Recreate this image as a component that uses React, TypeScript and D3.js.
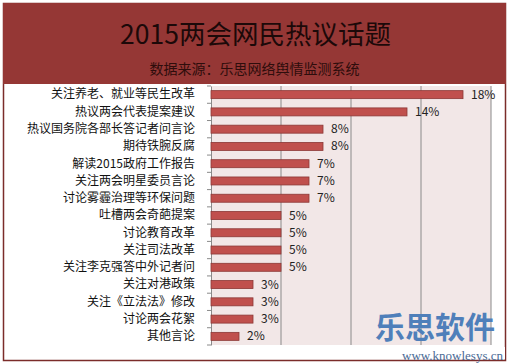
import React, { useEffect, useRef } from 'react';
import * as d3 from 'd3';

// 话题与占比(%)
const topics = [
  '关注养老、就业等民生改革',
  '热议两会代表提案建议',
  '热议国务院各部长答记者问言论',
  '期待铁腕反腐',
  '解读2015政府工作报告',
  '关注两会明星委员言论',
  '讨论雾霾治理等环保问题',
  '吐槽两会奇葩提案',
  '讨论教育改革',
  '关注司法改革',
  '关注李克强答中外记者问',
  '关注对港政策',
  '关注《立法法》修改',
  '讨论两会花絮',
  '其他言论',
];
const shares = [18, 14, 8, 8, 7, 7, 7, 5, 5, 5, 5, 3, 3, 3, 2];
const gridTicks = [0, 5, 10, 15, 20];

const W = 509;
const H = 364;
const CN = '"Noto Sans CJK SC", "Noto Sans", sans-serif';

function App() {
  const svgRef = useRef<SVGSVGElement>(null);

  useEffect(() => {
    const svg = d3.select(svgRef.current);
    svg.selectAll('*').remove();

    // 外框与标题区
    svg.append('rect').attr('x', 0).attr('y', 0).attr('width', W).attr('height', H).attr('fill', '#fff');
    svg.append('rect')
      .attr('x', 3.5).attr('y', 3.5).attr('width', W - 7).attr('height', H - 7)
      .attr('fill', '#fff').attr('stroke', '#7b2c2a').attr('stroke-width', 1.5);
    svg.append('rect')
      .attr('x', 3).attr('y', 3).attr('width', W - 6).attr('height', 81)
      .attr('fill', '#953735');

    svg.append('text')
      .attr('x', W / 2 + 1).attr('y', 44)
      .attr('text-anchor', 'middle')
      .attr('font-family', CN).attr('font-size', 26.5)
      .attr('fill', '#1c0909')
      .text('2015两会网民热议话题');
    svg.append('text')
      .attr('x', W / 2).attr('y', 74)
      .attr('text-anchor', 'middle')
      .attr('font-family', CN).attr('font-size', 14)
      .attr('fill', '#2e0d0c')
      .text('数据来源：乐思网络舆情监测系统');

    const left = 211, right = 491, top = 86, bottom = 345;
    const x = d3.scaleLinear().domain([0, 20]).range([left, right]);
    const y = d3.scaleBand().domain(topics).range([top, bottom]);

    // 绘图区背景
    svg.append('rect')
      .attr('x', left).attr('y', top).attr('width', right - left).attr('height', bottom - top)
      .attr('fill', '#f2e7e7');

    // 网格线
    svg.selectAll('.grid')
      .data(gridTicks.slice(1))
      .enter().append('line')
      .attr('x1', d => x(d)).attr('x2', d => x(d))
      .attr('y1', top).attr('y2', bottom)
      .attr('stroke', '#8a8a8a').attr('stroke-width', 1);

    // 纵轴
    const axis = svg.append('g')
      .attr('transform', `translate(${left},0)`)
      .call(d3.axisLeft(y).tickSize(0).tickPadding(16));
    axis.select('.domain').attr('stroke', '#8a8a8a');
    axis.selectAll('text')
      .attr('font-family', CN).attr('font-size', 12).attr('fill', '#111');
    // 分类之间的刻度
    svg.selectAll('.tk')
      .data(d3.range(topics.length + 1))
      .enter().append('line')
      .attr('x1', left - 4).attr('x2', left)
      .attr('y1', i => top + i * y.step()).attr('y2', i => top + i * y.step())
      .attr('stroke', '#8a8a8a');

    // 条形
    const barH = 8;
    svg.selectAll('.bar')
      .data(shares)
      .enter().append('rect')
      .attr('x', left)
      .attr('y', (d, i) => y(topics[i])! + y.bandwidth() / 2 - barH / 2)
      .attr('width', d => x(d) - left)
      .attr('height', barH)
      .attr('fill', '#c0504d').attr('stroke', '#8c3836').attr('stroke-width', 0.8);

    svg.selectAll('.val')
      .data(shares)
      .enter().append('text')
      .attr('x', d => x(d) + 8)
      .attr('y', (d, i) => y(topics[i])! + y.bandwidth() / 2 + 4)
      .attr('font-family', CN).attr('font-size', 12).attr('fill', '#222')
      .text(d => `${d}%`);

    // 水印
    svg.append('text')
      .attr('x', 375).attr('y', 338)
      .attr('font-family', CN).attr('font-size', 30).attr('font-weight', 'bold')
      .attr('fill', '#4f7fba')
      .text('乐思软件');
    svg.append('rect').attr('x', 374).attr('y', 347).attr('width', 131).attr('height', 12).attr('fill', '#fff');
    svg.append('text')
      .attr('x', 503).attr('y', 359.5)
      .attr('text-anchor', 'end')
      .attr('font-family', '"Liberation Serif", "DejaVu Serif", serif').attr('font-size', 13)
      .attr('fill', '#4a6a95')
      .text('www.knowlesys.cn');
  }, []);

  return (
    <div style={{ position: 'fixed', left: 0, top: 0, width: W, height: H }}>
      <svg ref={svgRef} width={W} height={H} style={{ display: 'block' }}></svg>
    </div>
  );
}

export default App;
